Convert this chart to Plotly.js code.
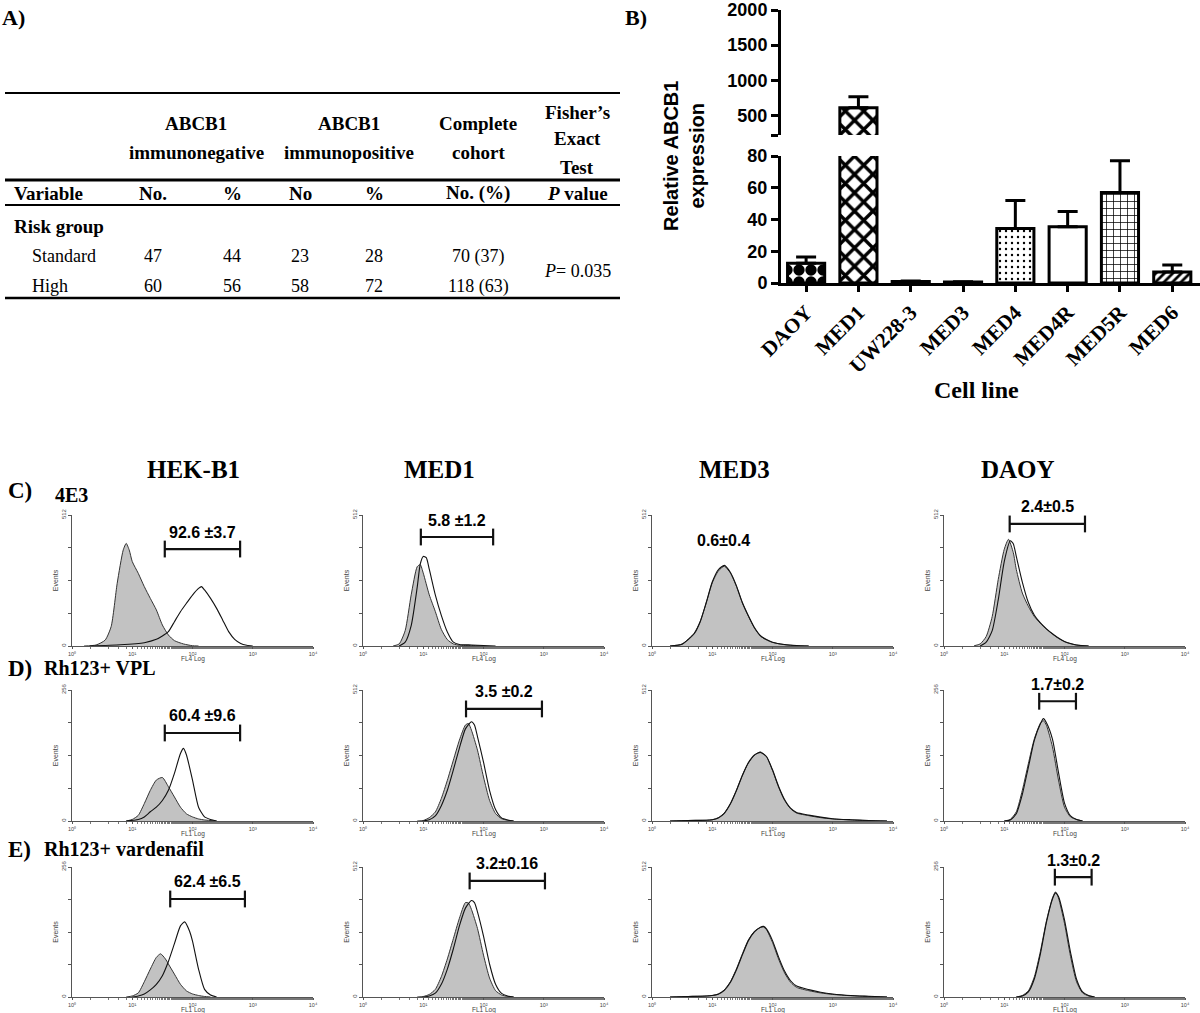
<!DOCTYPE html>
<html><head><meta charset="utf-8">
<script src="https://cdn.plot.ly/plotly-3.0.1.min.js"></script>
<style>html,body{margin:0;padding:0;background:#fff}#chart{width:1200px;height:1013px}</style>
</head><body><div id="chart"></div><script>
// ---------------- DATA ----------------
// Panel A table
const tblHeaderGroups = [['ABCB1','immunonegative'],['ABCB1','immunopositive'],['Complete','cohort'],['Fisher\u2019s','Exact','Test']];
const tblSubHeaders = ['Variable','No.','%','No','%','No. (%)','<i>P</i> value'];
const tblVariable = 'Risk group';
const tblRowLabels = ['Standard','High'];
const negNo = [47,60];
const negPct = [44,56];
const posNo = [23,58];
const posPct = [28,72];
const cohortNo = [70,118];
const cohortPct = [37,63];
const fisherP = '0.035';

// Panel B bar chart
const cellLines = ['DAOY','MED1','UW228-3','MED3','MED4','MED4R','MED5R','MED6'];
const relExpr = [12.5,610,0.9,0.6,34.3,35.5,57,7];
const relErr = [3.8,155,0.3,0.2,17.7,9.5,20,4.4];
const lowTicks = [0,20,40,60,80];
const highTicks = [500,1000,1500,2000];

// Panels C-E flow cytometry histograms (x: log10 decade, y: events)
const colNames = ['HEK-B1','MED1','MED3','DAOY'];
const rowNames = [['C)','4E3'],['D)','Rh123+ VPL'],['E)','Rh123+ vardenafil']];
const rowAxisTitle = ['FL4 Log','FL1 Log','FL1 Log'];
const yMax = [[512,512,512,512],[256,512,512,256],[256,512,512,256]];

// Row C
const cHekGrayD = [0.2,0.4,0.55,0.65,0.75,0.85,0.9,0.95,1.0,1.1,1.2,1.3,1.4,1.5,1.6,1.7,1.85,2.0,2.1];
const cHekGrayY = [0,4,23,76,245,375,401,375,330,284,232,186,141,82,43,21,8,1,0];
const cHekOpenD = [0.3,0.8,1.2,1.4,1.5,1.6,1.7,1.8,1.9,2.0,2.1,2.15,2.2,2.3,2.4,2.5,2.6,2.7,2.8,2.9,3.0];
const cHekOpenY = [0,5,13,26,39,56,95,134,167,199,225,232,219,186,147,102,56,26,10,3,0];
const cMed1GrayD = [0.5,0.6,0.7,0.8,0.9,0.95,1.0,1.1,1.2,1.3,1.4,1.5,1.6,1.8,2.0];
const cMed1GrayY = [0,8,60,200,310,318,285,200,135,65,25,8,3,2,0];
const cMed1OpenD = [0.6,0.7,0.8,0.9,0.95,1.0,1.05,1.1,1.2,1.3,1.4,1.5,1.6,1.8,2.0,2.2];
const cMed1OpenY = [0,15,80,230,320,350,345,300,200,120,55,15,6,4,2,0];
const cMed3D = [0.3,0.5,0.7,0.8,0.9,1.0,1.1,1.2,1.3,1.4,1.5,1.6,1.7,1.8,1.9,2.0,2.2,2.4,2.6];
const cMed3GrayY = [0,8,50,96,168,247,293,312,286,234,168,116,70,39,24,14,5,1,0];
const cMed3OpenY = [0,7,48,95,170,250,298,315,288,236,170,118,72,40,25,15,6,2,0];
const cDaoyGrayD = [0.5,0.6,0.7,0.8,0.9,1.0,1.07,1.15,1.2,1.3,1.4,1.5,1.6,1.7,1.8,1.9,2.0,2.1,2.2,2.4];
const cDaoyGrayY = [1,8,37,115,260,378,417,365,299,207,155,115,89,66,47,30,17,9,4,0];
const cDaoyOpenD = [0.6,0.7,0.8,0.9,1.0,1.1,1.15,1.2,1.3,1.4,1.5,1.6,1.7,1.8,1.9,2.0,2.1,2.2,2.4];
const cDaoyOpenY = [0,15,60,180,330,411,400,350,250,170,120,90,67,48,31,18,10,4,0];

// Row D
const dHekGrayD = [0.9,1.0,1.1,1.2,1.3,1.4,1.5,1.6,1.7,1.8,1.9,2.0,2.1,2.2,2.4];
const dHekGrayY = [0,3,11,34,60,80,85,67,47,27,14,8,4,2,0];
const dHekOpenD = [0.9,1.1,1.2,1.3,1.4,1.5,1.6,1.7,1.8,1.85,1.9,2.0,2.1,2.2,2.3,2.4];
const dHekOpenY = [0,3,8,18,27,40,60,93,132,142,129,80,27,8,3,0];
const dMed1GrayD = [0.9,1.0,1.1,1.2,1.3,1.4,1.5,1.6,1.7,1.75,1.8,1.9,2.0,2.1,2.2,2.3,2.4,2.5];
const dMed1GrayY = [0,2,13,35,88,159,238,316,375,381,355,277,172,81,29,9,3,0];
const dMed1OpenD = [1.0,1.1,1.2,1.3,1.4,1.5,1.6,1.7,1.8,1.85,1.9,2.0,2.1,2.2,2.3,2.4,2.5];
const dMed1OpenY = [0,5,20,60,120,200,285,360,388,375,330,230,120,45,12,4,0];
const dMed3D = [0.3,0.6,0.9,1.0,1.1,1.2,1.3,1.4,1.5,1.6,1.7,1.8,1.9,2.0,2.1,2.2,2.3,2.4,2.6,2.8,3.0,3.3,3.6,3.9];
const dMed3GrayY = [0,2,3,5,13,31,68,120,179,227,257,270,251,198,133,81,48,31,21,13,8,4,1,0];
const dMed3OpenY = [0,2,3,5,12,30,66,118,178,228,258,268,252,200,136,84,50,33,23,15,9,5,2,0];
const dDaoyD = [1.0,1.1,1.2,1.3,1.4,1.5,1.6,1.65,1.7,1.8,1.9,2.0,2.1,2.2,2.3];
const dDaoyGrayY = [0,3,18,60,112,161,191,196,187,145,80,27,8,3,0];
const dDaoyOpenY = [0,2,14,52,105,158,190,200,192,160,95,35,10,3,0];

// Row E
const eHekGrayD = [0.9,1.0,1.1,1.2,1.3,1.4,1.47,1.55,1.6,1.7,1.8,1.9,2.0,2.1,2.2,2.3];
const eHekGrayY = [0,2,8,30,55,78,85,75,65,45,25,12,6,3,1,0];
const eHekOpenD = [1.0,1.1,1.2,1.3,1.4,1.5,1.6,1.7,1.8,1.87,1.95,2.0,2.1,2.2,2.3,2.4];
const eHekOpenY = [0,2,6,14,25,42,70,105,140,148,130,110,55,15,4,0];
const eMed1GrayD = [0.9,1.0,1.1,1.2,1.3,1.4,1.5,1.6,1.7,1.75,1.8,1.9,2.0,2.1,2.2,2.3,2.4,2.5];
const eMed1GrayY = [0,2,10,30,80,150,230,310,372,370,345,270,165,75,25,8,2,0];
const eMed1OpenD = [1.0,1.1,1.2,1.3,1.4,1.5,1.6,1.7,1.8,1.85,1.9,2.0,2.1,2.2,2.3,2.4,2.5];
const eMed1OpenY = [0,4,15,50,110,190,280,350,380,372,335,240,130,50,14,4,0];
const eMed3D = [0.3,0.6,0.9,1.0,1.1,1.2,1.3,1.4,1.5,1.6,1.7,1.8,1.85,1.9,2.0,2.1,2.2,2.3,2.4,2.6,2.8,3.0,3.3,3.6,3.9];
const eMed3GrayY = [0,2,4,6,12,28,60,110,170,225,258,274,276,265,215,150,95,58,38,25,16,10,5,2,0];
const eMed3OpenY = [0,2,4,6,11,26,57,106,166,222,257,275,278,268,222,158,102,64,43,29,19,12,6,3,0];
const eDaoyD = [1.2,1.3,1.4,1.5,1.6,1.7,1.8,1.85,1.9,2.0,2.1,2.2,2.3,2.4,2.5];
const eDaoyGrayY = [0,3,12,40,90,150,195,207,195,145,80,30,8,2,0];
const eDaoyOpenY = [0,2,10,36,85,147,193,205,198,152,88,35,10,3,0];

// Gates (log10 decade bounds), gate level (events) and percentage labels
const gateLabels = [['92.6 \u00b13.7','5.8 \u00b11.2','0.6\u00b10.4','2.4\u00b10.5'],
                    ['60.4 \u00b19.6','3.5 \u00b10.2','','1.7\u00b10.2'],
                    ['62.4 \u00b16.5','3.2\u00b10.16','','1.3\u00b10.2']];
const gateLo = [[1.54,0.96,null,1.09],[1.54,1.71,null,1.58],[1.63,1.77,null,1.84]];
const gateHi = [[2.79,2.16,null,2.34],[2.79,2.97,null,2.19],[2.87,3.02,null,2.45]];
const gateLevel = [[379,426,414,477],[172,438,null,234],[193,457,null,236]];
const noGateLabelX = 1.18; // MED3 row C label position (decade)

const histData = [
  [[cHekGrayD,cHekGrayY,cHekOpenD,cHekOpenY],[cMed1GrayD,cMed1GrayY,cMed1OpenD,cMed1OpenY],[cMed3D,cMed3GrayY,cMed3D,cMed3OpenY],[cDaoyGrayD,cDaoyGrayY,cDaoyOpenD,cDaoyOpenY]],
  [[dHekGrayD,dHekGrayY,dHekOpenD,dHekOpenY],[dMed1GrayD,dMed1GrayY,dMed1OpenD,dMed1OpenY],[dMed3D,dMed3GrayY,dMed3D,dMed3OpenY],[dDaoyD,dDaoyGrayY,dDaoyD,dDaoyOpenY]],
  [[eHekGrayD,eHekGrayY,eHekOpenD,eHekOpenY],[eMed1GrayD,eMed1GrayY,eMed1OpenD,eMed1OpenY],[eMed3D,eMed3GrayY,eMed3D,eMed3OpenY],[eDaoyD,eDaoyGrayY,eDaoyD,eDaoyOpenY]]
];

// ---------------- LAYOUT HELPERS ----------------
const W = 1200, H = 1013;
const fx = p => p / W, fy = p => 1 - p / H;
const SERIF = 'Liberation Serif, Times New Roman, serif';
const SANS = 'Liberation Sans, Arial, sans-serif';
const traces = [];
const annotations = [];
const shapes = [];
const layout = {width:W, height:H, margin:{l:0,r:0,t:0,b:0}, paper_bgcolor:'#fff', plot_bgcolor:'rgba(0,0,0,0)', showlegend:false};

function ann(text, x, y, opts) {
  annotations.push(Object.assign({text, x:fx(x), y:fy(y), xref:'paper', yref:'paper', showarrow:false,
    xanchor:'center', yanchor:'middle', font:{family:SERIF, size:19, color:'#000'}}, opts || {}));
}
function hline(x0, x1, y, w) {
  shapes.push({type:'line', xref:'paper', yref:'paper', x0:fx(x0), x1:fx(x1), y0:fy(y), y1:fy(y), line:{color:'#000', width:w}});
}

// ---------------- PANEL A: TABLE ----------------
ann('A)', 0, 17, {xanchor:'left', font:{family:SERIF, size:22, color:'#000', weight:'bold'}});
hline(5, 620, 93, 2);
hline(5, 620, 180, 3);
hline(5, 620, 205, 2);
hline(5, 620, 298, 2.5);
const hdrX = [196, 349, 478, 577];
const hdrY = [[124,152],[124,152],[124,152],[112,139,167]];
tblHeaderGroups.forEach((lines, i) => lines.forEach((t, j) =>
  ann(t, hdrX[i], hdrY[i][j], {font:{family:SERIF, size:19, color:'#000', weight:'bold'}})));
const colX = [12, 153, 232, 300, 374, 478, 577];
tblSubHeaders.forEach((t, i) => ann(t, colX[i], 193, {xanchor: i === 0 ? 'left' : 'center',
  font:{family:SERIF, size:19, color:'#000', weight:'bold'}}));
ann(tblVariable, 12, 226, {xanchor:'left', font:{family:SERIF, size:19, color:'#000', weight:'bold'}});
const rowY = [256, 286];
tblRowLabels.forEach((lab, r) => {
  ann(lab, 30, rowY[r], {xanchor:'left', font:{family:SERIF, size:18, color:'#000'}});
  [negNo[r], negPct[r], posNo[r], posPct[r], cohortNo[r] + ' (' + cohortPct[r] + ')'].forEach((v, c) =>
    ann(String(v), colX[c + 1], rowY[r], {font:{family:SERIF, size:18, color:'#000'}}));
});
ann('<i>P</i>= ' + fisherP, 577, 271, {font:{family:SERIF, size:18, color:'#000'}});

// ---------------- PANEL B: BAR CHART ----------------
ann('B)', 623, 17, {xanchor:'left', font:{family:SERIF, size:22, color:'#000', weight:'bold'}});
const patShape = ['.','x','','','.','','+','/'];
const patSize = [12,13,8,8,6,8,7,6];
const patSol = [0.7,0.45,0.2,0.2,0.12,0.2,0.2,0.45];
const barBase = {type:'bar', x:cellLines, y:relExpr, width:0.71, hoverinfo:'skip',
  marker:{color:'#fff', line:{color:'#000', width:3},
    pattern:{shape:patShape, size:patSize, solidity:patSol, fgcolor:'#000', bgcolor:'#fff', fillmode:'replace'}},
  error_y:{type:'data', symmetric:false, array:relErr, arrayminus:relErr.map(() => 0), color:'#000', thickness:3, width:10}};
traces.push(Object.assign({}, barBase, {xaxis:'x', yaxis:'y'}));
traces.push(Object.assign({}, barBase, {xaxis:'x', yaxis:'y2'}));
const tickFontB = {family:SANS, size:18, color:'#000', weight:'bold'};
layout.xaxis = {domain:[fx(781), 1], range:[-0.48, 7.53], anchor:'y', showline:true, linecolor:'#000', linewidth:3,
  ticks:'outside', ticklen:6, tickwidth:3, tickcolor:'#000', tickangle:-45,
  tickfont:{family:SERIF, size:21, color:'#000', weight:'bold'}, showgrid:false, zeroline:false, fixedrange:true};
layout.yaxis = {domain:[fy(283), fy(156)], range:[0, 80], anchor:'x', tickvals:lowTicks, showline:true,
  linecolor:'#000', linewidth:3, ticks:'outside', ticklen:7, tickwidth:3, tickcolor:'#000', tickfont:tickFontB,
  showgrid:false, zeroline:false, fixedrange:true};
layout.yaxis2 = {domain:[fy(135), fy(10)], range:[222, 2000], anchor:'x', tickvals:[222].concat(highTicks),
  ticktext:[''].concat(highTicks.map(String)), showline:true, linecolor:'#000', linewidth:3, ticks:'outside',
  ticklen:7, tickwidth:3, tickcolor:'#000', tickfont:tickFontB, ticklabeloverflow:'allow',
  showgrid:false, zeroline:false, fixedrange:true};
ann('Relative ABCB1<br>expression', 684, 156, {textangle:-90, font:{family:SANS, size:20, color:'#000', weight:'bold'}});
ann('Cell line', 976, 390, {font:{family:SERIF, size:24, color:'#000', weight:'bold'}});

// ---------------- PANELS C-E: HISTOGRAMS ----------------
const colAxisX = [72, 363, 652, 944];
const plotW = 241;
const rowTop = [515, 690, 867], rowBase = [646, 821, 997];
const colHeadX = [193, 440, 734, 1018];
colNames.forEach((n, c) => ann(n, colHeadX[c], 470, {font:{family:SERIF, size:25, color:'#000', weight:'bold'}}));
const rowLabY = [490, 668, 849];
rowNames.forEach((rn, r) => {
  ann(rn[0], 6, rowLabY[r], {xanchor:'left', font:{family:SERIF, size:23, color:'#000', weight:'bold'}});
  ann(rn[1], r === 0 ? 53 : 42, rowLabY[r] + (r === 0 ? 5 : 0), {xanchor:'left', font:{family:SERIF, size:20, color:'#000', weight:'bold'}});
});
const sup = ['\u2070','\u00b9','\u00b2','\u00b3','\u2074'];
for (let r = 0; r < 3; r++) {
  for (let c = 0; c < 4; c++) {
    const k = 3 + r * 4 + c;
    const xa = 'x' + k, ya = 'y' + k;
    const m = yMax[r][c];
    layout['xaxis' + k] = {domain:[fx(colAxisX[c]), fx(colAxisX[c] + plotW)], type:'log', range:[0, 4], anchor:ya,
      showline:true, linecolor:'#555', linewidth:1, ticks:'outside', ticklen:2, tickcolor:'#555',
      tickvals:[1,10,100,1000,10000], ticktext:sup.map(s => '10' + s), tickfont:{family:SANS, size:5.5, color:'#444'},
      minor:{ticks:'outside', ticklen:2, tickcolor:'#777'}, showgrid:false, zeroline:false, fixedrange:true};
    layout['yaxis' + k] = {domain:[fy(rowBase[r]), fy(rowTop[r])], range:[0, m], anchor:xa,
      showline:true, linecolor:'#555', linewidth:1, ticks:'outside', ticklen:3, tickcolor:'#555',
      tickvals:[0, m/4, m/2, 3*m/4, m], ticktext:['0','','','',String(m)], tickangle:-90,
      tickfont:{family:SANS, size:6, color:'#444'}, showgrid:false, zeroline:false, fixedrange:true,
      title:{text:'Events', font:{family:SANS, size:7, color:'#444'}, standoff:1}};
    ann(rowAxisTitle[r], colAxisX[c] + plotW / 2, rowBase[r] + 12.5, {font:{family:SANS, size:6.5, color:'#444'}});
    const [gD, gY, oD, oY] = histData[r][c];
    traces.push({type:'scatter', mode:'lines', xaxis:xa, yaxis:ya, x:gD.map(d => Math.pow(10, d)), y:gY,
      fill:'tozeroy', fillcolor:'#c2c2c2', line:{color:'#333', width:1, shape:'spline', smoothing:0.6}, hoverinfo:'skip'});
    traces.push({type:'scatter', mode:'lines', xaxis:xa, yaxis:ya, x:oD.map(d => Math.pow(10, d)), y:oY,
      line:{color:'#111', width:1.1, shape:'spline', smoothing:0.6}, hoverinfo:'skip'});
    const lo = gateLo[r][c], hi = gateHi[r][c], lvl = gateLevel[r][c];
    if (lo !== null) {
      traces.push({type:'scatter', mode:'lines+markers', xaxis:xa, yaxis:ya, x:[Math.pow(10, lo), Math.pow(10, hi)], y:[lvl, lvl],
        line:{color:'#111', width:2.2}, marker:{symbol:'line-ns', size:12, color:'#111', line:{color:'#111', width:2.2}},
        cliponaxis:false, hoverinfo:'skip'});
    }
    if (gateLabels[r][c]) {
      annotations.push({xref:xa, yref:ya, x: lo !== null ? (lo + hi) / 2 : noGateLabelX, y:lvl,
        yshift: lo !== null ? 17 : 0, text:gateLabels[r][c], showarrow:false,
        font:{family:SANS, size:16, color:'#000', weight:'bold'}});
    }
  }
}

layout.annotations = annotations;
layout.shapes = shapes;
Plotly.newPlot('chart', traces, layout, {staticPlot:true, displayModeBar:false});
</script></body></html>
